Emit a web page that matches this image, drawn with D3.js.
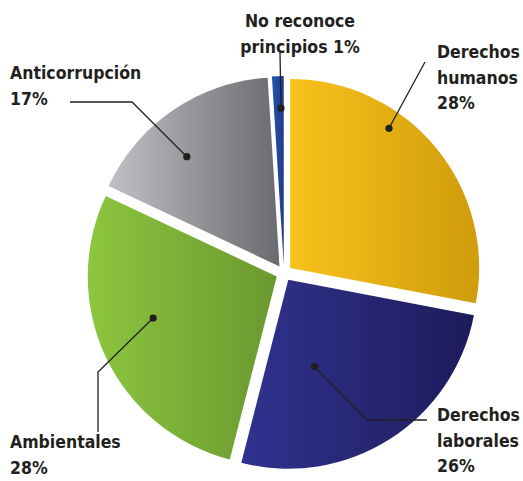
<!DOCTYPE html>
<html>
<head>
<meta charset="utf-8">
<script src="https://cdn.jsdelivr.net/npm/d3@7"></script>
<style>
  body { margin: 0; background: #fff; }
  text { font-family: "DejaVu Sans Condensed", "DejaVu Sans", sans-serif; font-weight: bold; fill: #231f20; }
</style>
</head>
<body>
<div id="chart"></div>
<script>
// data
var categories = ["Derechos humanos", "Derechos laborales", "Ambientales", "Anticorrupción", "No reconoce principios"];
var values = [28, 26, 28, 17, 1];
var labelLines = [["Derechos", "humanos", "28%"], ["Derechos", "laborales", "26%"], ["Ambientales", "28%"], ["Anticorrupción", "17%"], ["No reconoce", "principios 1%"]];
var colorsLeft = ["#f8c21b", "#30338f", "#8dc63f", "#c0c1c4", "#1d56a9"];
var colorsRight = ["#cf9c0c", "#1e1b5b", "#6a9830", "#6a6b6e", "#27398c"];

// set the dimensions of the graph
var width = 523, height = 481,
    cx = 284, cy = 273,
    radius = 189,
    explode = 8;

var svg = d3.select("#chart")
  .append("svg")
    .attr("width", width)
    .attr("height", height);

var defs = svg.append("defs");
categories.forEach(function(c, i) {
  var g = defs.append("linearGradient")
    .attr("id", "grad" + i)
    .attr("x1", 0).attr("x2", 1).attr("y1", 0).attr("y2", 0);
  g.append("stop").attr("offset", "0%").attr("stop-color", colorsLeft[i]);
  g.append("stop").attr("offset", "100%").attr("stop-color", colorsRight[i]);
});

var pie = d3.pie().sort(null).value(function(d) { return d; });
var arcs = pie(values);
var arc = d3.arc().innerRadius(0).outerRadius(radius);

function offset(d) {
  var a = (d.startAngle + d.endAngle) / 2;
  return [Math.sin(a) * explode, -Math.cos(a) * explode];
}

var g = svg.append("g").attr("transform", "translate(" + cx + "," + cy + ")");

g.selectAll("path.slice")
  .data(arcs)
  .enter()
  .append("path")
    .attr("class", "slice")
    .attr("transform", function(d) { var o = offset(d); return "translate(" + o[0] + "," + o[1] + ")"; })
    .attr("d", arc)
    .attr("fill", function(d, i) { return "url(#grad" + i + ")"; });

// leader lines: dot position (angle in degrees, fraction of radius), then bend and end points
var dotAngles = [35.3, 163.2, 251.4, 319.8, 359];
var dotRadii = [0.905, 0.48, 0.69, 0.76, 0.83];
var leaderPoints = [
  [[425, 62]],
  [[367, 420], [427, 420]],
  [[98, 372], [98, 432]],
  [[132, 102], [70, 102]],
  [[280, 53]]
];
var labelPos = [[437, 58, "start"], [437, 421, "start"], [10, 448, "start"], [10, 79, "start"], [300, 27, "middle"]];
var lineGap = 25.5;

arcs.forEach(function(d, i) {
  var o = offset(d);
  var a = dotAngles[i] * Math.PI / 180;
  var px = cx + o[0] + Math.sin(a) * radius * dotRadii[i];
  var py = cy + o[1] - Math.cos(a) * radius * dotRadii[i];
  var pts = [[px, py]].concat(leaderPoints[i]);
  svg.append("path")
    .attr("d", d3.line()(pts))
    .attr("fill", "none")
    .attr("stroke", "#231f20")
    .attr("stroke-width", 1.3);
  svg.append("circle")
    .attr("cx", px).attr("cy", py).attr("r", 3.6)
    .attr("fill", "#231f20");

  var t = svg.append("text")
    .attr("x", labelPos[i][0])
    .attr("y", labelPos[i][1])
    .attr("text-anchor", labelPos[i][2])
    .style("font-size", "17.5px");
  labelLines[i].forEach(function(s, j) {
    t.append("tspan")
      .attr("x", labelPos[i][0])
      .attr("dy", j === 0 ? 0 : lineGap)
      .text(s);
  });
});
</script>
</body>
</html>
